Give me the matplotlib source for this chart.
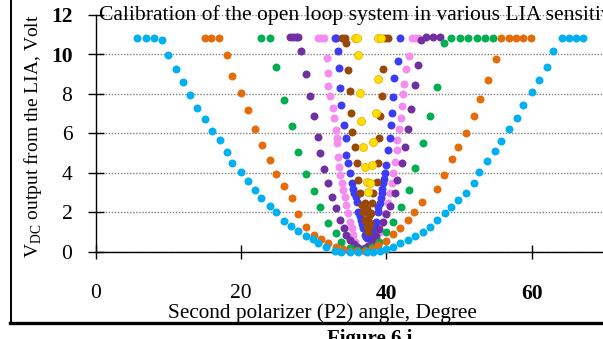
import matplotlib
matplotlib.use("Agg")
import matplotlib.pyplot as plt
from matplotlib.lines import Line2D

plt.rcParams['font.family'] = ['Liberation Serif', 'DejaVu Serif']
plt.rcParams['mathtext.fontset'] = 'custom'
plt.rcParams['mathtext.rm'] = 'Liberation Serif'

# light blue series (widest)
lb_x = [5.7, 6.9, 8.0, 9.1, 9.9, 11.0, 12.0, 13.0, 13.9, 15.0, 16.0, 17.1, 18.1, 18.8, 20.0, 21.0, 21.9,
        22.8, 24.0, 24.8, 25.9, 26.9, 27.8, 29.0, 29.9, 30.6, 31.7, 32.9, 33.8, 35.0, 36.1, 37.3, 38.2,
        39.1, 40.0, 40.9, 41.9, 43.0, 43.9, 45.1, 46.0, 46.9, 48.0, 48.9, 49.9, 51.0, 52.0, 52.8, 53.9,
        55.0, 55.8, 56.9, 58.0, 58.8, 60.0, 61.0, 62.1, 62.9, 64.1, 65.1, 66.1, 67.1]
lb_y = [10.83, 10.83, 10.83, 10.72, 9.98, 9.26, 8.6, 7.94, 7.3, 6.74, 6.13, 5.65, 5.03, 4.5, 4.05, 3.58, 3.12,
        2.71, 2.32, 2.03, 1.57, 1.3, 1.07, 0.78, 0.62, 0.43, 0.22, 0.06, 0.01, 0.0, 0.0, 0.0, 0.01,
        0.05, 0.12, 0.25, 0.46, 0.59, 0.8, 1.02, 1.24, 1.61, 1.95, 2.28, 2.62, 3.0, 3.5, 4.03, 4.6,
        5.11, 5.63, 6.21, 6.77, 7.45, 8.12, 8.72, 9.36, 10.15, 10.83, 10.83, 10.83, 10.83]

or_x = [15.0, 15.9, 17.0, 18.1, 18.8, 20.0, 21.0, 21.9, 22.9, 24.0, 24.8, 25.9, 27.0, 27.8, 28.9, 30.0,
        31.0, 32.0, 33.0, 34.0, 35.0, 36.0, 37.0, 38.0, 38.9, 40.0, 40.9, 41.9, 43.0, 43.8, 44.9, 46.9,
        47.9, 49.0, 49.8, 50.9, 52.1, 52.9, 54.0, 55.1, 55.8, 56.9, 57.8, 58.8, 59.9]
or_y = [10.83, 10.83, 10.83, 9.97, 8.92, 8.04, 7.16, 6.24, 5.43, 4.65, 3.94, 3.31, 2.71, 1.9, 1.27, 0.85,
        0.62, 0.43, 0.25, 0.12, 0.05, 0.03, 0.05, 0.15, 0.34, 0.56, 0.88, 1.19, 1.61, 2.03, 2.54, 3.17,
        3.88, 4.7, 5.3, 6.01, 6.9, 7.75, 8.72, 9.77, 10.83, 10.83, 10.83, 10.83, 10.83]

gr_x = [22.8, 24.0, 24.8, 25.9, 27.0, 27.8, 28.9, 30.1, 30.85, 32.0, 33.0, 33.8, 35.0, 36.0, 37.0, 38.0,
        39.0, 40.0, 40.9, 42.0, 43.1, 43.9, 45.1, 46.0, 46.9, 47.9, 48.9, 50.1, 51.2, 52.4, 53.5, 54.7]
gr_y = [10.83, 10.83, 9.34, 7.7, 6.36, 5.07, 3.94, 3.09, 2.28, 1.44, 0.96, 0.51, 0.2, 0.1, 0.1, 0.25,
        0.51, 1.01, 1.52, 2.28, 3.13, 4.23, 5.5, 6.89, 8.35, 10.58, 10.83, 10.83, 10.83, 10.83, 10.83, 10.83]

pu_x = [26.7, 27.1, 27.5, 27.9, 28.3, 29.0, 29.5, 30.1, 30.6, 30.85, 31.4, 32.0, 32.5, 33.0, 33.6, 34.1,
        34.5, 35.0, 35.5, 36.0, 36.5, 37.0, 37.5, 38.0, 38.5, 39.0, 39.5, 40.0, 40.5, 41.2, 41.5, 42.1,
        42.5, 43.0, 43.4, 43.9, 44.4, 44.8, 45.5, 46.4, 47.4]
pu_y = [10.88, 10.88, 10.88, 10.88, 10.2, 9.0, 7.87, 6.89, 5.84, 5.0, 4.18, 3.47, 2.79, 2.2, 1.61, 1.19,
        0.85, 0.59, 0.38, 0.22, 0.15, 0.18, 0.3, 0.5, 0.8, 1.15, 1.5, 1.9, 2.32, 2.96, 3.64, 4.48,
        5.32, 6.22, 7.24, 8.45, 9.47, 10.75, 10.88, 10.88, 10.88]

pk_x = [30.6, 31.0, 31.4, 31.8, 32.0, 32.0, 32.2, 32.7, 32.8, 33.0, 33.15, 33.15, 33.4, 33.45, 33.6, 33.85,
        34.05, 34.3, 34.5, 34.75, 35.0, 35.2, 35.4, 35.7, 36.0, 36.6, 37.2, 37.7, 38.2, 38.65, 39.1, 39.3,
        39.8, 40.2, 40.5, 40.7, 40.9, 41.15, 41.4, 41.5, 41.75, 42.0, 42.2, 42.3, 42.45, 42.65, 43.1, 43.5,
        43.9, 44.3]
pk_y = [10.85, 10.85, 10.85, 9.83, 9.07, 8.4, 7.89, 7.29, 6.79, 6.19, 5.77, 5.5, 4.82, 4.31, 3.9, 3.47,
        3.13, 2.79, 2.37, 1.95, 1.52, 1.19, 0.85, 0.51, 0.25, 0.09, 0.09, 0.15, 0.25, 0.59, 1.02, 1.44,
        1.95, 2.46, 2.96, 3.47, 3.98, 4.57, 5.16, 5.67, 6.23, 6.79, 7.38, 7.98, 8.48, 9.24, 9.92, 10.85,
        10.85, 10.85]

bl_x = [32.9, 33.1, 33.3, 33.5, 33.6, 33.8, 34.2, 34.4, 34.5, 34.75, 34.95, 35.2, 35.4, 35.6, 35.75, 35.9,
        36.1, 36.3, 36.5, 36.65, 36.8, 37.0, 37.15, 37.3, 37.5, 37.7, 37.95, 38.2, 38.4, 38.55, 38.8,
        38.9, 39.1, 39.2, 39.35, 39.45, 39.55, 39.7, 39.8, 40.0, 40.25, 40.5, 40.6, 40.8, 40.95, 41.05,
        41.55, 41.9]
bl_y = [10.83, 10.83, 10.17, 9.33, 8.31, 7.43, 6.42, 5.75, 4.91, 4.49, 3.98, 3.47, 3.2, 2.96, 2.75, 2.54,
        2.03, 1.8, 1.61, 1.4, 1.19, 0.85, 0.75, 0.68, 0.72, 0.76, 0.9, 1.1, 1.3, 1.52, 2.03,
        2.25, 2.46, 2.7, 2.96, 3.2, 3.47, 3.7, 3.98, 4.4, 5.16, 5.77, 6.41, 7.03, 7.83, 8.81,
        9.66, 10.83]

br_x = [33.9, 34.3, 34.5, 34.75, 34.98, 35.12, 35.21, 35.67, 35.9, 36.12, 36.35, 36.59, 36.8, 37.04, 37.28,
        37.41, 37.1, 37.35, 37.55, 37.6, 37.73, 37.87, 37.96, 38.18, 38.65, 38.87, 39.0, 39.1, 39.34,
        39.48, 39.79, 40.2]
br_y = [10.83, 10.83, 10.6, 9.19, 8.14, 7.04, 6.08, 5.33, 4.49, 3.64, 2.96, 2.37, 2.03, 1.61, 1.27,
        1.02, 2.45, 2.15, 1.8, 1.25, 1.44, 1.95, 2.46, 2.96, 3.55, 4.49, 5.77, 6.87, 7.89,
        9.24, 10.83, 10.83]

ye_x = [35.7, 36.0, 36.12, 36.35, 36.45, 36.73, 37.04, 37.28, 37.41, 37.73, 37.96, 38.18, 38.56, 38.79,
        38.87, 39.2]
ye_y = [10.83, 10.83, 9.96, 8.05, 6.61, 5.32, 4.31, 3.55, 3.04, 3.47, 4.4, 5.58, 7.03, 8.77,
        10.83, 10.83]

series = [
    (pk_x, pk_y, '#F58CF0'),
    (bl_x, bl_y, '#3C3CF5'),
    (br_x, br_y, '#984807'),
    (ye_x, ye_y, '#FFE000'),
    (pu_x, pu_y, '#7030A0'),
    (gr_x, gr_y, '#00B050'),
    (or_x, or_y, '#E46C0A'),
    (lb_x, lb_y, '#00B0F0'),
]

fig = plt.figure(figsize=(6.03, 3.39), dpi=100)
ax = fig.add_axes([95.7 / 603, (339 - 251.7) / 339, (603 - 95.7) / 603, 236.7 / 339])

for xs, ys, c in series:
    if c == '#FFE000':
        ax.scatter(xs, ys, s=33, color=c, edgecolors='#F2B200', linewidths=0.6, clip_on=False, zorder=3)
    else:
        ax.scatter(xs, ys, s=33, color=c, linewidths=0, clip_on=False, zorder=3)

ax.set_xlim(0, 69.8)
ax.set_ylim(0, 12)
ax.set_xticks([0, 20, 40, 60])
ax.set_yticks([0, 2, 4, 6, 8, 10, 12])
ax.spines['top'].set_visible(False)
ax.spines['right'].set_visible(False)
ax.spines['left'].set_linewidth(1)
ax.spines['bottom'].set_linewidth(1)
ax.tick_params(axis='y', direction='inout', length=11.5, width=1, pad=11, labelsize=15.5)
ax.tick_params(axis='x', direction='inout', length=10, width=1, pad=18, labelsize=15.5)
for lab in ax.get_yticklabels():
    if lab.get_text() in ('10', '12'):
        lab.set_fontweight('bold')
for lab in ax.get_xticklabels():
    if lab.get_text() in ('40', '60'):
        lab.set_fontweight('bold')

ax.yaxis.grid(True, color='#808080', linestyle=(0, (1, 1.2)), linewidth=1)
ax.set_axisbelow(True)

ax.text(0.4, 12, 'Calibration of the open loop system in various LIA sensitivity',
        fontsize=15.6, va='center', ha='left', zorder=1)

ax.set_xlabel('Second polarizer (P2) angle, Degree', fontsize=15.3)
ax.xaxis.label.set_va('center')
ax.xaxis.set_label_coords(0.446, -0.26)
ax.set_ylabel(r'V$_{\mathrm{DC}}$ output from the LIA, Volt', fontsize=14)
ax.yaxis.label.set_va('center')
ax.yaxis.set_label_coords(-0.124, 0.49)

fig.add_artist(Line2D([10.5 / 603, 10.5 / 603], [1, 1 - 323 / 339], color='black', lw=1.4))
fig.add_artist(Line2D([10 / 603, 1], [1 - 323 / 339, 1 - 323 / 339], color='black', lw=2.4))
fig.text(370 / 603, 1 - 329 / 339, 'Figure 6.i', fontsize=15, fontweight='bold', ha='center', va='top')

fig.savefig('out.png', dpi=100)
